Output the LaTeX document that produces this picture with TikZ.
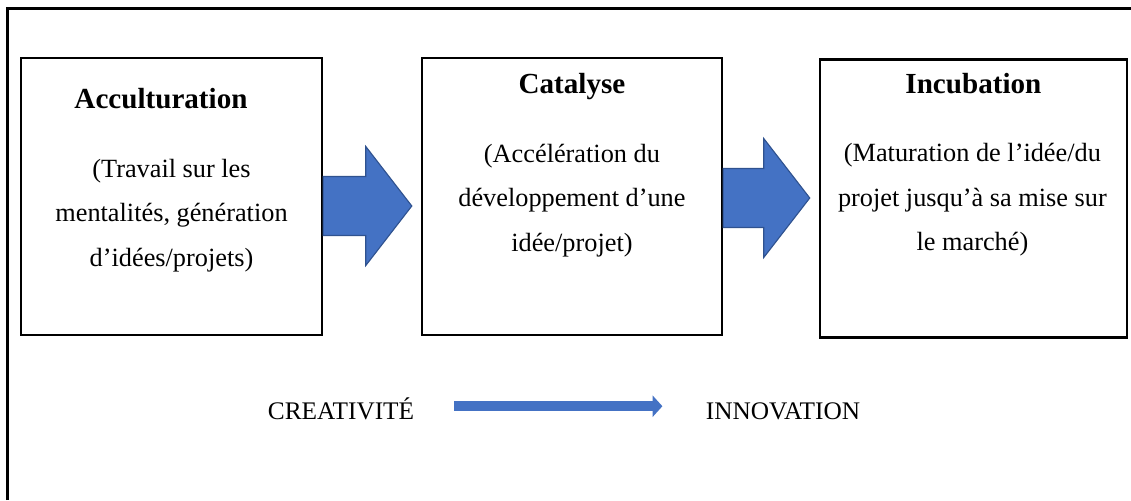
\documentclass[tikz,border=0pt]{standalone}
\usepackage{fontspec}
\setmainfont{Liberation Serif}
\usetikzlibrary{positioning, calc, arrows.meta}
\definecolor{arrowblue}{HTML}{4472C4}
\definecolor{arrowedge}{HTML}{2F528F}
\tikzstyle{stage} = [rectangle, draw=black, line width=1.6pt, inner sep=0pt, minimum height=6.925cm]
\tikzstyle{title} = [inner sep=0pt, anchor=base, font=\fontsize{20.7}{24}\selectfont\bfseries]
\tikzstyle{body} = [inner sep=0pt, anchor=north, align=center, font=\fontsize{18.7}{31.6}\selectfont]
\tikzstyle{pole} = [inner sep=0pt, anchor=base, font=\fontsize{18}{20}\selectfont]
\tikzstyle{block} = [fill=arrowblue, draw=arrowedge, line width=0.8pt, line join=miter]
\tikzstyle{thinarrow} = [arrowblue, line width=7pt, -{Triangle[length=7pt, width=15pt]}]
\tikzstyle{outerframe} = [line width=1.8pt]

% block arrow from box #1 to box #2, shifted down by #3
\newcommand{\bigarrow}[3]{%
  \coordinate (s) at ($(#1.east)+(0,#3)$);
  \coordinate (t) at ($(#1.east -| #2.west)+(-9,#3)$);
  \draw [block] ($(s)+(0,-29.5)$) -- ($(t)+(-46,-29.5)$) -- ($(t)+(-46,-59.5)$) -- (t)
    -- ($(t)+(-46,59.5)$) -- ($(t)+(-46,29.5)$) -- ($(s)+(0,29.5)$) -- cycle;}

\begin{document}
\begin{tikzpicture}[x=0.025cm, y=-0.025cm]
\useasboundingbox (0,0) rectangle (1131,500);

%frame
\draw [outerframe] (7.5,500) -- (7.5,8.5) -- (1131,8.5);

%boxes
\node (Acc) [stage, minimum width=7.525cm] at (171.5,196.5) {};
\node (Cat) [stage, minimum width=7.5cm, right=2.44cm of Acc] {};
\node (Inc) [stage, minimum width=7.675cm, minimum height=6.95cm, right=2.39cm of Cat, yshift=-0.05cm] {};

%titles and texts
\node (AccT) [title] at ($(Acc.north)+(-10.5,52)$) {Acculturation};
\node (CatT) [title] at ($(Cat.north)+(0,37)$) {Catalyse};
\node (IncT) [title] at ($(Inc.north)+(0,35)$) {Incubation};
\node (AccB) [body] at ($(Acc.north)+(0,102)$) {(Travail sur les\\mentalités, génération\\d’idées/projets)};
\node (CatB) [body] at ($(Cat.north)+(0,87)$) {(Accélération du\\développement d’une\\idée/projet)};
\node (IncB) [body] at ($(Inc.north)+(-1,85)$) {(Maturation de l’idée/du\\projet jusqu’à sa mise sur\\le marché)};

%block arrows
\bigarrow{Acc}{Cat}{9.5}
\bigarrow{Cat}{Inc}{1.5}

%bottom row
\node (Cre) [pole] at (341,419) {CREATIVITÉ};
\node (Inn) [pole] at (783,419) {INNOVATION};
\draw [thinarrow, shorten <=1.0cm, shorten >=1.08cm] ([yshift=1.5pt]Cre.east) -- ([yshift=1.5pt]Cre.east -| Inn.west);

\end{tikzpicture}
\end{document}
